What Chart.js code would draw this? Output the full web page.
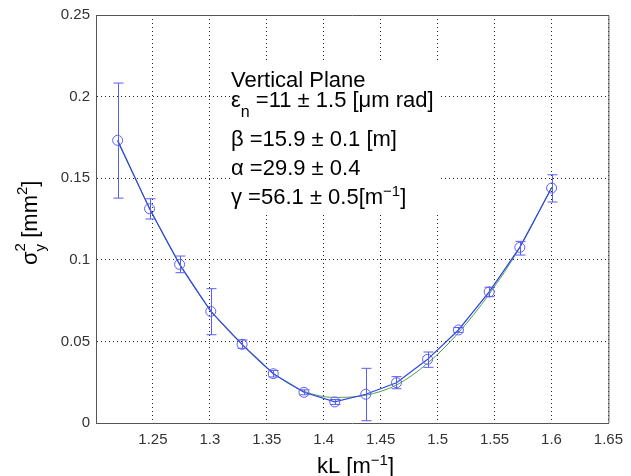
<!DOCTYPE html>
<html>
<head>
<meta charset="utf-8">
<script src="https://cdn.jsdelivr.net/npm/chart.js@4"></script>
<style>
  body { margin: 0; background: #fff; }
  #wrap { width: 631px; height: 476px; position: relative; }
</style>
</head>
<body>
<div id="wrap"><canvas id="scan"></canvas></div>
<script>
// quad scan data
const kL = [1.219, 1.247, 1.2734, 1.3008, 1.3283, 1.3557, 1.3826, 1.4097, 1.4369, 1.4639, 1.4912, 1.5183, 1.5453, 1.5722, 1.6001];
const sigma2 = [0.1732, 0.1313, 0.0972, 0.0684, 0.0482, 0.0302, 0.0188, 0.0129, 0.0176, 0.0247, 0.0390, 0.0570, 0.0803, 0.1076, 0.1440];
const errTop = [0.2083, 0.1374, 0.1023, 0.0823, 0.0509, 0.0322, 0.0203, 0.0144, 0.0335, 0.0284, 0.0435, 0.0585, 0.0832, 0.1113, 0.1521];
const errBottom = [0.1378, 0.1250, 0.0921, 0.0541, 0.0458, 0.0282, 0.0173, 0.0114, 0.0014, 0.0210, 0.0341, 0.0555, 0.0774, 0.1029, 0.1354];
// fitted curve (green)
const fit = [0.1725, 0.1318, 0.0975, 0.0690, 0.0480, 0.0305, 0.0195, 0.0157, 0.0170, 0.0233, 0.0366, 0.0553, 0.0790, 0.1076, 0.1445];

const xTickLabels = ['1.25', '1.3', '1.35', '1.4', '1.45', '1.5', '1.55', '1.6', '1.65'];
const yTickLabels = ['0', '0.05', '0.1', '0.15', '0.2', '0.25'];

const FONT = '"Liberation Sans", Arial, sans-serif';

// draw a run of text pieces (sub/superscripts) from left to right
function drawRuns(ctx, x, y, runs) {
    for (let r of runs) {
        ctx.font = (r.size || 22) + 'px ' + FONT;
        ctx.fillText(r.t, x, y + (r.dy || 0));
        if (!r.stack) x += ctx.measureText(r.t).width;
    }
}

// error bars, box and texts
const decorPlugin = {
    id: 'decor',
    beforeDatasetsDraw(chart) {
        const ctx = chart.ctx;
        const a = chart.chartArea;
        ctx.save();
        // white box behind the annotation
        ctx.fillStyle = '#fff';
        ctx.fillRect(230, 61, 211, 152);
        // top and right edges of the axes box
        ctx.strokeStyle = '#555';
        ctx.lineWidth = 1;
        ctx.beginPath();
        ctx.moveTo(a.left, a.top + 0.5);
        ctx.lineTo(a.right + 0.5, a.top + 0.5);
        ctx.lineTo(a.right + 0.5, a.bottom);
        ctx.stroke();
        ctx.restore();
    },
    afterDatasetsDraw(chart) {
        const ctx = chart.ctx;
        const xs = chart.scales.x, ys = chart.scales.y;
        ctx.save();
        ctx.strokeStyle = '#5a5cf6';
        ctx.lineWidth = 1;
        for (let i = 0; i < kL.length; i++) {
            let px = Math.round(xs.getPixelForValue(kL[i])) + 0.5;
            let t = ys.getPixelForValue(errTop[i]);
            let b = ys.getPixelForValue(errBottom[i]);
            ctx.beginPath();
            ctx.moveTo(px, t); ctx.lineTo(px, b);
            ctx.moveTo(px - 5, t); ctx.lineTo(px + 5, t);
            ctx.moveTo(px - 5, b); ctx.lineTo(px + 5, b);
            ctx.stroke();
        }
        ctx.restore();
    },
    afterDraw(chart) {
        const ctx = chart.ctx;
        ctx.save();
        ctx.fillStyle = '#000';
        ctx.textBaseline = 'alphabetic';
        ctx.textAlign = 'left';
        // annotation
        drawRuns(ctx, 231, 87, [{t: 'Vertical Plane'}]);
        drawRuns(ctx, 231, 107, [{t: 'ε'}, {t: 'n', size: 16, dy: 10}, {t: ' =11 ± 1.5 [μm rad]'}]);
        drawRuns(ctx, 231, 146, [{t: 'β =15.9 ± 0.1 [m]'}]);
        drawRuns(ctx, 231, 175, [{t: 'α =29.9 ± 0.4'}]);
        drawRuns(ctx, 231, 204, [{t: 'γ =56.1 ± 0.5[m'}, {t: '−1', size: 15, dy: -8}, {t: ']'}]);
        // x title
        drawRuns(ctx, 317, 473, [{t: 'kL [m'}, {t: '−1', size: 15, dy: -8}, {t: ']'}]);
        // y title, rotated
        ctx.translate(37, 265);
        ctx.rotate(-Math.PI / 2);
        drawRuns(ctx, 0, 0, [{t: 'σ'}, {t: '2', size: 15, dy: -12, stack: true}, {t: 'y', size: 15, dy: 8}, {t: ' [mm'}, {t: '2', size: 15, dy: -10}, {t: ']'}]);
        ctx.restore();
    }
};

window.addEventListener('load', () => {
    let context = document.getElementById('scan').getContext('2d');
    let conData = {
        datasets: [{
            label: 'measured',
            data: kL.map((x, i) => ({x: x, y: sigma2[i]})),
            borderColor: '#2f45e6',
            borderWidth: 1.2,
            pointRadius: 5,
            pointStyle: 'circle',
            pointBorderColor: '#5a5cf6',
            pointBackgroundColor: 'rgba(0,0,0,0)',
            pointBorderWidth: 1,
            tension: 0,
            fill: false,
            order: 0
        }, {
            label: 'fit',
            data: kL.map((x, i) => ({x: x, y: fit[i]})),
            borderColor: '#4f9f4f',
            borderWidth: 1,
            pointRadius: 0,
            cubicInterpolationMode: 'monotone',
            fill: false,
            order: 1
        }]
    };
    let options = {
        responsive: true,
        maintainAspectRatio: false,
        animation: false,
        layout: { padding: { left: 0, top: 15, right: 18, bottom: 0 } },
        plugins: { legend: { display: false }, tooltip: { enabled: false } },
        scales: {
            x: {
                type: 'linear',
                min: 1.2, max: 1.65,
                afterFit: s => { s.height = 53; },
                ticks: {
                    stepSize: 0.05,
                    padding: 8,
                    color: '#333',
                    font: { family: FONT, size: 15 },
                    maxRotation: 0,
                    callback: v => {
                        let i = Math.round((v - 1.25) / 0.05);
                        return (i >= 0 && i < xTickLabels.length) ? xTickLabels[i] : '';
                    }
                },
                grid: {
                    drawTicks: false,
                    color: c => (c.tick && c.tick.value < 1.21) ? 'rgba(0,0,0,0)' : '#222',
                    lineWidth: 1
                },
                border: { display: true, color: '#555', width: 1, dash: [1, 3] }
            },
            y: {
                type: 'linear',
                min: 0, max: 0.25,
                afterFit: s => { s.width = 96; },
                ticks: {
                    stepSize: 0.05,
                    padding: 6,
                    color: '#333',
                    font: { family: FONT, size: 15 },
                    callback: v => {
                        let i = Math.round(v / 0.05);
                        return (i >= 0 && i < yTickLabels.length) ? yTickLabels[i] : '';
                    }
                },
                grid: {
                    drawTicks: false,
                    color: c => (c.tick && (c.tick.value < 0.001 || c.tick.value > 0.249)) ? 'rgba(0,0,0,0)' : '#222',
                    lineWidth: 1
                },
                border: { display: true, color: '#555', width: 1, dash: [1, 3] }
            }
        }
    };
    let config = { type: 'line', data: conData, options: options, plugins: [decorPlugin] };
    new Chart(context, config);
});
</script>
</body>
</html>
